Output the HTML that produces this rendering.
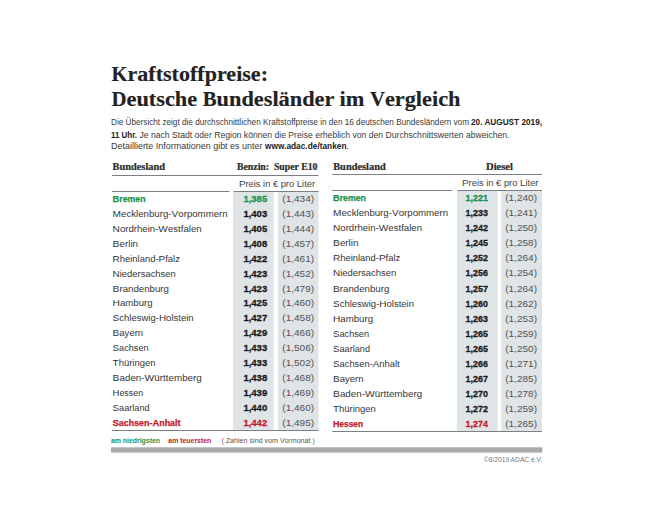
<!DOCTYPE html>
<html><head><meta charset="utf-8"><style>
html,body{margin:0;padding:0;background:#fff;}
body{width:650px;height:506px;overflow:hidden;}
svg{display:block;}
</style></head><body>
<svg width="650" height="506" viewBox="0 0 650 506">
<rect width="650" height="506" fill="#fff"/>
<text x="111.5" y="80.8" font-family='"Liberation Serif", serif' font-size="20" font-weight="bold" fill="#222" textLength="156.5" lengthAdjust="spacingAndGlyphs" stroke="#222" stroke-width="0.15"><tspan font-size="20">K</tspan><tspan font-size="21.5">raftstoffpreise:</tspan></text>
<text x="111.5" y="105.8" font-family='"Liberation Serif", serif' font-size="20" font-weight="bold" fill="#222" textLength="349" lengthAdjust="spacingAndGlyphs" stroke="#222" stroke-width="0.15"><tspan font-size="20">D</tspan><tspan font-size="21.5">eutsche </tspan><tspan font-size="20">B</tspan><tspan font-size="21.5">undesländer im </tspan><tspan font-size="20">V</tspan><tspan font-size="21.5">ergleich</tspan></text>
<text x="111" y="125" font-family='"Liberation Sans", sans-serif' font-size="8.7" font-weight="normal" fill="#3a3a3a" textLength="358" lengthAdjust="spacingAndGlyphs" >Die Übersicht zeigt die durchschnittlichen Kraftstoffpreise in den 16 deutschen Bundesländern vom</text>
<text x="471" y="125" font-family='"Liberation Sans", sans-serif' font-size="8.7" font-weight="bold" fill="#222" textLength="71" lengthAdjust="spacingAndGlyphs" >20. AUGUST 2019,</text>
<text x="111" y="137.7" font-family='"Liberation Sans", sans-serif' font-size="8.7" font-weight="bold" fill="#222" textLength="26" lengthAdjust="spacingAndGlyphs" >11 Uhr.</text>
<text x="139.5" y="137.7" font-family='"Liberation Sans", sans-serif' font-size="8.7" font-weight="normal" fill="#3a3a3a" textLength="370" lengthAdjust="spacingAndGlyphs" >Je nach Stadt oder Region können die Preise erheblich von den Durchschnittswerten abweichen.</text>
<text x="111" y="148.5" font-family='"Liberation Sans", sans-serif' font-size="8.7" font-weight="normal" fill="#3a3a3a" textLength="151.5" lengthAdjust="spacingAndGlyphs" >Detaillierte Informationen gibt es unter</text>
<text x="265" y="148.5" font-family='"Liberation Sans", sans-serif' font-size="8.7" font-weight="bold" fill="#222" textLength="81.5" lengthAdjust="spacingAndGlyphs" >www.adac.de/tanken</text>
<text x="346.3" y="148.5" font-family='"Liberation Sans", sans-serif' font-size="8.7" font-weight="normal" fill="#3a3a3a" >.</text>
<rect x="233" y="192" width="40.69999999999999" height="238" fill="#dfe4e6"/>
<rect x="277.8" y="192" width="40.69999999999999" height="238" fill="#dfe4e6"/>
<rect x="112" y="175" width="206.5" height="1" fill="#7c8084"/>
<rect x="112" y="191" width="117.4" height="1" fill="#7c8084"/>
<rect x="233.5" y="191" width="85.0" height="1" fill="#7c8084"/>
<rect x="112" y="430" width="206.5" height="1" fill="#7c8084"/>
<text x="112.5" y="169.8" font-family='"Liberation Serif", serif' font-size="9.3" font-weight="bold" fill="#2a2a2a" textLength="52.5" lengthAdjust="spacingAndGlyphs" stroke="#2a2a2a" stroke-width="0.2">Bundesland</text>
<text x="237" y="169.8" font-family='"Liberation Serif", serif' font-size="9.3" font-weight="bold" fill="#2a2a2a" textLength="80.5" lengthAdjust="spacingAndGlyphs" stroke="#2a2a2a" stroke-width="0.2">Benzin:&#160; Super E10</text>
<text x="239" y="186.5" font-family='"Liberation Sans", sans-serif' font-size="9" font-weight="normal" fill="#444" textLength="76" lengthAdjust="spacingAndGlyphs" ><tspan font-size="9.7">P</tspan><tspan font-size="9.2">reis in € pro </tspan><tspan font-size="9.7">L</tspan><tspan font-size="9.2">iter</tspan></text>
<text x="112.6" y="201.8" font-family='"Liberation Sans", sans-serif' font-size="9" font-weight="bold" fill="#1b924b" textLength="32.94" lengthAdjust="spacingAndGlyphs" stroke="#1b924b" stroke-width="0.25"><tspan font-size="9.7">B</tspan><tspan font-size="9.2">remen</tspan></text>
<text x="243.4" y="201.8" font-family='"Liberation Sans", sans-serif' font-size="9.5" font-weight="bold" fill="#1b924b" textLength="23.83" lengthAdjust="spacingAndGlyphs" stroke="#1b924b" stroke-width="0.3">1,385</text>
<text x="282.3" y="201.8" font-family='"Liberation Sans", sans-serif' font-size="9.6" font-weight="normal" fill="#525252" textLength="31.8" lengthAdjust="spacingAndGlyphs" >(1,434)</text>
<text x="112.6" y="216.75" font-family='"Liberation Sans", sans-serif' font-size="9" font-weight="normal" fill="#353535" textLength="115.06" lengthAdjust="spacingAndGlyphs" ><tspan font-size="9.7">M</tspan><tspan font-size="9.2">ecklenburg-</tspan><tspan font-size="9.7">V</tspan><tspan font-size="9.2">orpommern</tspan></text>
<text x="243.4" y="216.75" font-family='"Liberation Sans", sans-serif' font-size="9.5" font-weight="bold" fill="#1a1a1a" textLength="23.83" lengthAdjust="spacingAndGlyphs" stroke="#1a1a1a" stroke-width="0.3">1,403</text>
<text x="282.3" y="216.75" font-family='"Liberation Sans", sans-serif' font-size="9.6" font-weight="normal" fill="#525252" textLength="31.8" lengthAdjust="spacingAndGlyphs" >(1,443)</text>
<text x="112.6" y="231.70000000000002" font-family='"Liberation Sans", sans-serif' font-size="9" font-weight="normal" fill="#353535" textLength="89.01" lengthAdjust="spacingAndGlyphs" ><tspan font-size="9.7">N</tspan><tspan font-size="9.2">ordrhein-</tspan><tspan font-size="9.7">W</tspan><tspan font-size="9.2">estfalen</tspan></text>
<text x="243.4" y="231.70000000000002" font-family='"Liberation Sans", sans-serif' font-size="9.5" font-weight="bold" fill="#1a1a1a" textLength="23.83" lengthAdjust="spacingAndGlyphs" stroke="#1a1a1a" stroke-width="0.3">1,405</text>
<text x="282.3" y="231.70000000000002" font-family='"Liberation Sans", sans-serif' font-size="9.6" font-weight="normal" fill="#525252" textLength="31.8" lengthAdjust="spacingAndGlyphs" >(1,444)</text>
<text x="112.6" y="246.65" font-family='"Liberation Sans", sans-serif' font-size="9" font-weight="normal" fill="#353535" textLength="25.44" lengthAdjust="spacingAndGlyphs" ><tspan font-size="9.7">B</tspan><tspan font-size="9.2">erlin</tspan></text>
<text x="243.4" y="246.65" font-family='"Liberation Sans", sans-serif' font-size="9.5" font-weight="bold" fill="#1a1a1a" textLength="23.83" lengthAdjust="spacingAndGlyphs" stroke="#1a1a1a" stroke-width="0.3">1,408</text>
<text x="282.3" y="246.65" font-family='"Liberation Sans", sans-serif' font-size="9.6" font-weight="normal" fill="#525252" textLength="31.8" lengthAdjust="spacingAndGlyphs" >(1,457)</text>
<text x="112.6" y="261.6" font-family='"Liberation Sans", sans-serif' font-size="9" font-weight="normal" fill="#353535" textLength="67.31" lengthAdjust="spacingAndGlyphs" ><tspan font-size="9.7">R</tspan><tspan font-size="9.2">heinland-</tspan><tspan font-size="9.7">P</tspan><tspan font-size="9.2">falz</tspan></text>
<text x="243.4" y="261.6" font-family='"Liberation Sans", sans-serif' font-size="9.5" font-weight="bold" fill="#1a1a1a" textLength="23.83" lengthAdjust="spacingAndGlyphs" stroke="#1a1a1a" stroke-width="0.3">1,422</text>
<text x="282.3" y="261.6" font-family='"Liberation Sans", sans-serif' font-size="9.6" font-weight="normal" fill="#525252" textLength="31.8" lengthAdjust="spacingAndGlyphs" >(1,461)</text>
<text x="112.6" y="276.55" font-family='"Liberation Sans", sans-serif' font-size="9" font-weight="normal" fill="#353535" textLength="63.16" lengthAdjust="spacingAndGlyphs" ><tspan font-size="9.7">N</tspan><tspan font-size="9.2">iedersachsen</tspan></text>
<text x="243.4" y="276.55" font-family='"Liberation Sans", sans-serif' font-size="9.5" font-weight="bold" fill="#1a1a1a" textLength="23.83" lengthAdjust="spacingAndGlyphs" stroke="#1a1a1a" stroke-width="0.3">1,423</text>
<text x="282.3" y="276.55" font-family='"Liberation Sans", sans-serif' font-size="9.6" font-weight="normal" fill="#525252" textLength="31.8" lengthAdjust="spacingAndGlyphs" >(1,452)</text>
<text x="112.6" y="291.5" font-family='"Liberation Sans", sans-serif' font-size="9" font-weight="normal" fill="#353535" textLength="56.32" lengthAdjust="spacingAndGlyphs" ><tspan font-size="9.7">B</tspan><tspan font-size="9.2">randenburg</tspan></text>
<text x="243.4" y="291.5" font-family='"Liberation Sans", sans-serif' font-size="9.5" font-weight="bold" fill="#1a1a1a" textLength="23.83" lengthAdjust="spacingAndGlyphs" stroke="#1a1a1a" stroke-width="0.3">1,423</text>
<text x="282.3" y="291.5" font-family='"Liberation Sans", sans-serif' font-size="9.6" font-weight="normal" fill="#525252" textLength="31.8" lengthAdjust="spacingAndGlyphs" >(1,479)</text>
<text x="112.6" y="306.45" font-family='"Liberation Sans", sans-serif' font-size="9" font-weight="normal" fill="#353535" textLength="40.06" lengthAdjust="spacingAndGlyphs" ><tspan font-size="9.7">H</tspan><tspan font-size="9.2">amburg</tspan></text>
<text x="243.4" y="306.45" font-family='"Liberation Sans", sans-serif' font-size="9.5" font-weight="bold" fill="#1a1a1a" textLength="23.83" lengthAdjust="spacingAndGlyphs" stroke="#1a1a1a" stroke-width="0.3">1,425</text>
<text x="282.3" y="306.45" font-family='"Liberation Sans", sans-serif' font-size="9.6" font-weight="normal" fill="#525252" textLength="31.8" lengthAdjust="spacingAndGlyphs" >(1,460)</text>
<text x="112.6" y="321.4" font-family='"Liberation Sans", sans-serif' font-size="9" font-weight="normal" fill="#353535" textLength="81.01" lengthAdjust="spacingAndGlyphs" ><tspan font-size="9.7">S</tspan><tspan font-size="9.2">chleswig-</tspan><tspan font-size="9.7">H</tspan><tspan font-size="9.2">olstein</tspan></text>
<text x="243.4" y="321.4" font-family='"Liberation Sans", sans-serif' font-size="9.5" font-weight="bold" fill="#1a1a1a" textLength="23.83" lengthAdjust="spacingAndGlyphs" stroke="#1a1a1a" stroke-width="0.3">1,427</text>
<text x="282.3" y="321.4" font-family='"Liberation Sans", sans-serif' font-size="9.6" font-weight="normal" fill="#525252" textLength="31.8" lengthAdjust="spacingAndGlyphs" >(1,458)</text>
<text x="112.6" y="336.35" font-family='"Liberation Sans", sans-serif' font-size="9" font-weight="normal" fill="#353535" textLength="30.57" lengthAdjust="spacingAndGlyphs" ><tspan font-size="9.7">B</tspan><tspan font-size="9.2">ayern</tspan></text>
<text x="243.4" y="336.35" font-family='"Liberation Sans", sans-serif' font-size="9.5" font-weight="bold" fill="#1a1a1a" textLength="23.83" lengthAdjust="spacingAndGlyphs" stroke="#1a1a1a" stroke-width="0.3">1,429</text>
<text x="282.3" y="336.35" font-family='"Liberation Sans", sans-serif' font-size="9.6" font-weight="normal" fill="#525252" textLength="31.8" lengthAdjust="spacingAndGlyphs" >(1,466)</text>
<text x="112.6" y="351.3" font-family='"Liberation Sans", sans-serif' font-size="9" font-weight="normal" fill="#353535" textLength="36.06" lengthAdjust="spacingAndGlyphs" ><tspan font-size="9.7">S</tspan><tspan font-size="9.2">achsen</tspan></text>
<text x="243.4" y="351.3" font-family='"Liberation Sans", sans-serif' font-size="9.5" font-weight="bold" fill="#1a1a1a" textLength="23.83" lengthAdjust="spacingAndGlyphs" stroke="#1a1a1a" stroke-width="0.3">1,433</text>
<text x="282.3" y="351.3" font-family='"Liberation Sans", sans-serif' font-size="9.6" font-weight="normal" fill="#525252" textLength="31.8" lengthAdjust="spacingAndGlyphs" >(1,506)</text>
<text x="112.6" y="366.25" font-family='"Liberation Sans", sans-serif' font-size="9" font-weight="normal" fill="#353535" textLength="42.81" lengthAdjust="spacingAndGlyphs" ><tspan font-size="9.7">T</tspan><tspan font-size="9.2">hüringen</tspan></text>
<text x="243.4" y="366.25" font-family='"Liberation Sans", sans-serif' font-size="9.5" font-weight="bold" fill="#1a1a1a" textLength="23.83" lengthAdjust="spacingAndGlyphs" stroke="#1a1a1a" stroke-width="0.3">1,433</text>
<text x="282.3" y="366.25" font-family='"Liberation Sans", sans-serif' font-size="9.6" font-weight="normal" fill="#525252" textLength="31.8" lengthAdjust="spacingAndGlyphs" >(1,502)</text>
<text x="112.6" y="381.2" font-family='"Liberation Sans", sans-serif' font-size="9" font-weight="normal" fill="#353535" textLength="89.2" lengthAdjust="spacingAndGlyphs" ><tspan font-size="9.7">B</tspan><tspan font-size="9.2">aden-</tspan><tspan font-size="9.7">W</tspan><tspan font-size="9.2">ürttemberg</tspan></text>
<text x="243.4" y="381.2" font-family='"Liberation Sans", sans-serif' font-size="9.5" font-weight="bold" fill="#1a1a1a" textLength="23.83" lengthAdjust="spacingAndGlyphs" stroke="#1a1a1a" stroke-width="0.3">1,438</text>
<text x="282.3" y="381.2" font-family='"Liberation Sans", sans-serif' font-size="9.6" font-weight="normal" fill="#525252" textLength="31.8" lengthAdjust="spacingAndGlyphs" >(1,468)</text>
<text x="112.6" y="396.15" font-family='"Liberation Sans", sans-serif' font-size="9" font-weight="normal" fill="#353535" textLength="30.52" lengthAdjust="spacingAndGlyphs" ><tspan font-size="9.7">H</tspan><tspan font-size="9.2">essen</tspan></text>
<text x="243.4" y="396.15" font-family='"Liberation Sans", sans-serif' font-size="9.5" font-weight="bold" fill="#1a1a1a" textLength="23.83" lengthAdjust="spacingAndGlyphs" stroke="#1a1a1a" stroke-width="0.3">1,439</text>
<text x="282.3" y="396.15" font-family='"Liberation Sans", sans-serif' font-size="9.6" font-weight="normal" fill="#525252" textLength="31.8" lengthAdjust="spacingAndGlyphs" >(1,469)</text>
<text x="112.6" y="411.1" font-family='"Liberation Sans", sans-serif' font-size="9" font-weight="normal" fill="#353535" textLength="37.06" lengthAdjust="spacingAndGlyphs" ><tspan font-size="9.7">S</tspan><tspan font-size="9.2">aarland</tspan></text>
<text x="243.4" y="411.1" font-family='"Liberation Sans", sans-serif' font-size="9.5" font-weight="bold" fill="#1a1a1a" textLength="23.83" lengthAdjust="spacingAndGlyphs" stroke="#1a1a1a" stroke-width="0.3">1,440</text>
<text x="282.3" y="411.1" font-family='"Liberation Sans", sans-serif' font-size="9.6" font-weight="normal" fill="#525252" textLength="31.8" lengthAdjust="spacingAndGlyphs" >(1,460)</text>
<text x="112.6" y="426.05" font-family='"Liberation Sans", sans-serif' font-size="9" font-weight="bold" fill="#c0202b" textLength="67.87" lengthAdjust="spacingAndGlyphs" stroke="#c0202b" stroke-width="0.25"><tspan font-size="9.7">S</tspan><tspan font-size="9.2">achsen-</tspan><tspan font-size="9.7">A</tspan><tspan font-size="9.2">nhalt</tspan></text>
<text x="243.4" y="426.05" font-family='"Liberation Sans", sans-serif' font-size="9.5" font-weight="bold" fill="#c0202b" textLength="23.83" lengthAdjust="spacingAndGlyphs" stroke="#c0202b" stroke-width="0.3">1,442</text>
<text x="282.3" y="426.05" font-family='"Liberation Sans", sans-serif' font-size="9.6" font-weight="normal" fill="#525252" textLength="31.8" lengthAdjust="spacingAndGlyphs" >(1,495)</text>
<rect x="456.9" y="191" width="40.60000000000002" height="240" fill="#dfe4e6"/>
<rect x="501.3" y="191" width="40.69999999999999" height="240" fill="#dfe4e6"/>
<rect x="332.2" y="174" width="209.8" height="1" fill="#7c8084"/>
<rect x="332.2" y="190" width="120.0" height="1" fill="#7c8084"/>
<rect x="457.4" y="190" width="84.60000000000002" height="1" fill="#7c8084"/>
<rect x="332.2" y="431" width="209.8" height="1" fill="#7c8084"/>
<text x="333.2" y="169.5" font-family='"Liberation Serif", serif' font-size="9.3" font-weight="bold" fill="#2a2a2a" textLength="52.5" lengthAdjust="spacingAndGlyphs" stroke="#2a2a2a" stroke-width="0.2">Bundesland</text>
<text x="486" y="169.5" font-family='"Liberation Serif", serif' font-size="9.3" font-weight="bold" fill="#2a2a2a" textLength="27" lengthAdjust="spacingAndGlyphs" stroke="#2a2a2a" stroke-width="0.2">Diesel</text>
<text x="462" y="185.9" font-family='"Liberation Sans", sans-serif' font-size="9" font-weight="normal" fill="#444" textLength="76.5" lengthAdjust="spacingAndGlyphs" ><tspan font-size="9.7">P</tspan><tspan font-size="9.2">reis in € pro </tspan><tspan font-size="9.7">L</tspan><tspan font-size="9.2">iter</tspan></text>
<text x="333" y="201.2" font-family='"Liberation Sans", sans-serif' font-size="9" font-weight="bold" fill="#1b924b" textLength="32.94" lengthAdjust="spacingAndGlyphs" stroke="#1b924b" stroke-width="0.25"><tspan font-size="9.7">B</tspan><tspan font-size="9.2">remen</tspan></text>
<text x="465.6" y="201.2" font-family='"Liberation Sans", sans-serif' font-size="9.5" font-weight="bold" fill="#1b924b" textLength="22.404273504273505" lengthAdjust="spacingAndGlyphs" stroke="#1b924b" stroke-width="0.3">1,221</text>
<text x="505.2" y="201.2" font-family='"Liberation Sans", sans-serif' font-size="9.6" font-weight="normal" fill="#525252" textLength="31.8" lengthAdjust="spacingAndGlyphs" >(1,240)</text>
<text x="333" y="216.25" font-family='"Liberation Sans", sans-serif' font-size="9" font-weight="normal" fill="#353535" textLength="115.06" lengthAdjust="spacingAndGlyphs" ><tspan font-size="9.7">M</tspan><tspan font-size="9.2">ecklenburg-</tspan><tspan font-size="9.7">V</tspan><tspan font-size="9.2">orpommern</tspan></text>
<text x="465.6" y="216.25" font-family='"Liberation Sans", sans-serif' font-size="9.5" font-weight="bold" fill="#1a1a1a" textLength="22.404273504273505" lengthAdjust="spacingAndGlyphs" stroke="#1a1a1a" stroke-width="0.3">1,233</text>
<text x="505.2" y="216.25" font-family='"Liberation Sans", sans-serif' font-size="9.6" font-weight="normal" fill="#525252" textLength="31.8" lengthAdjust="spacingAndGlyphs" >(1,241)</text>
<text x="333" y="231.29999999999998" font-family='"Liberation Sans", sans-serif' font-size="9" font-weight="normal" fill="#353535" textLength="89.01" lengthAdjust="spacingAndGlyphs" ><tspan font-size="9.7">N</tspan><tspan font-size="9.2">ordrhein-</tspan><tspan font-size="9.7">W</tspan><tspan font-size="9.2">estfalen</tspan></text>
<text x="465.6" y="231.29999999999998" font-family='"Liberation Sans", sans-serif' font-size="9.5" font-weight="bold" fill="#1a1a1a" textLength="22.404273504273505" lengthAdjust="spacingAndGlyphs" stroke="#1a1a1a" stroke-width="0.3">1,242</text>
<text x="505.2" y="231.29999999999998" font-family='"Liberation Sans", sans-serif' font-size="9.6" font-weight="normal" fill="#525252" textLength="31.8" lengthAdjust="spacingAndGlyphs" >(1,250)</text>
<text x="333" y="246.35" font-family='"Liberation Sans", sans-serif' font-size="9" font-weight="normal" fill="#353535" textLength="25.44" lengthAdjust="spacingAndGlyphs" ><tspan font-size="9.7">B</tspan><tspan font-size="9.2">erlin</tspan></text>
<text x="465.6" y="246.35" font-family='"Liberation Sans", sans-serif' font-size="9.5" font-weight="bold" fill="#1a1a1a" textLength="22.404273504273505" lengthAdjust="spacingAndGlyphs" stroke="#1a1a1a" stroke-width="0.3">1,245</text>
<text x="505.2" y="246.35" font-family='"Liberation Sans", sans-serif' font-size="9.6" font-weight="normal" fill="#525252" textLength="31.8" lengthAdjust="spacingAndGlyphs" >(1,258)</text>
<text x="333" y="261.4" font-family='"Liberation Sans", sans-serif' font-size="9" font-weight="normal" fill="#353535" textLength="67.31" lengthAdjust="spacingAndGlyphs" ><tspan font-size="9.7">R</tspan><tspan font-size="9.2">heinland-</tspan><tspan font-size="9.7">P</tspan><tspan font-size="9.2">falz</tspan></text>
<text x="465.6" y="261.4" font-family='"Liberation Sans", sans-serif' font-size="9.5" font-weight="bold" fill="#1a1a1a" textLength="22.404273504273505" lengthAdjust="spacingAndGlyphs" stroke="#1a1a1a" stroke-width="0.3">1,252</text>
<text x="505.2" y="261.4" font-family='"Liberation Sans", sans-serif' font-size="9.6" font-weight="normal" fill="#525252" textLength="31.8" lengthAdjust="spacingAndGlyphs" >(1,264)</text>
<text x="333" y="276.45" font-family='"Liberation Sans", sans-serif' font-size="9" font-weight="normal" fill="#353535" textLength="63.16" lengthAdjust="spacingAndGlyphs" ><tspan font-size="9.7">N</tspan><tspan font-size="9.2">iedersachsen</tspan></text>
<text x="465.6" y="276.45" font-family='"Liberation Sans", sans-serif' font-size="9.5" font-weight="bold" fill="#1a1a1a" textLength="22.404273504273505" lengthAdjust="spacingAndGlyphs" stroke="#1a1a1a" stroke-width="0.3">1,256</text>
<text x="505.2" y="276.45" font-family='"Liberation Sans", sans-serif' font-size="9.6" font-weight="normal" fill="#525252" textLength="31.8" lengthAdjust="spacingAndGlyphs" >(1,254)</text>
<text x="333" y="291.5" font-family='"Liberation Sans", sans-serif' font-size="9" font-weight="normal" fill="#353535" textLength="56.32" lengthAdjust="spacingAndGlyphs" ><tspan font-size="9.7">B</tspan><tspan font-size="9.2">randenburg</tspan></text>
<text x="465.6" y="291.5" font-family='"Liberation Sans", sans-serif' font-size="9.5" font-weight="bold" fill="#1a1a1a" textLength="22.404273504273505" lengthAdjust="spacingAndGlyphs" stroke="#1a1a1a" stroke-width="0.3">1,257</text>
<text x="505.2" y="291.5" font-family='"Liberation Sans", sans-serif' font-size="9.6" font-weight="normal" fill="#525252" textLength="31.8" lengthAdjust="spacingAndGlyphs" >(1,264)</text>
<text x="333" y="306.55" font-family='"Liberation Sans", sans-serif' font-size="9" font-weight="normal" fill="#353535" textLength="81.01" lengthAdjust="spacingAndGlyphs" ><tspan font-size="9.7">S</tspan><tspan font-size="9.2">chleswig-</tspan><tspan font-size="9.7">H</tspan><tspan font-size="9.2">olstein</tspan></text>
<text x="465.6" y="306.55" font-family='"Liberation Sans", sans-serif' font-size="9.5" font-weight="bold" fill="#1a1a1a" textLength="22.404273504273505" lengthAdjust="spacingAndGlyphs" stroke="#1a1a1a" stroke-width="0.3">1,260</text>
<text x="505.2" y="306.55" font-family='"Liberation Sans", sans-serif' font-size="9.6" font-weight="normal" fill="#525252" textLength="31.8" lengthAdjust="spacingAndGlyphs" >(1,262)</text>
<text x="333" y="321.6" font-family='"Liberation Sans", sans-serif' font-size="9" font-weight="normal" fill="#353535" textLength="40.06" lengthAdjust="spacingAndGlyphs" ><tspan font-size="9.7">H</tspan><tspan font-size="9.2">amburg</tspan></text>
<text x="465.6" y="321.6" font-family='"Liberation Sans", sans-serif' font-size="9.5" font-weight="bold" fill="#1a1a1a" textLength="22.404273504273505" lengthAdjust="spacingAndGlyphs" stroke="#1a1a1a" stroke-width="0.3">1,263</text>
<text x="505.2" y="321.6" font-family='"Liberation Sans", sans-serif' font-size="9.6" font-weight="normal" fill="#525252" textLength="31.8" lengthAdjust="spacingAndGlyphs" >(1,253)</text>
<text x="333" y="336.65" font-family='"Liberation Sans", sans-serif' font-size="9" font-weight="normal" fill="#353535" textLength="36.06" lengthAdjust="spacingAndGlyphs" ><tspan font-size="9.7">S</tspan><tspan font-size="9.2">achsen</tspan></text>
<text x="465.6" y="336.65" font-family='"Liberation Sans", sans-serif' font-size="9.5" font-weight="bold" fill="#1a1a1a" textLength="22.404273504273505" lengthAdjust="spacingAndGlyphs" stroke="#1a1a1a" stroke-width="0.3">1,265</text>
<text x="505.2" y="336.65" font-family='"Liberation Sans", sans-serif' font-size="9.6" font-weight="normal" fill="#525252" textLength="31.8" lengthAdjust="spacingAndGlyphs" >(1,259)</text>
<text x="333" y="351.7" font-family='"Liberation Sans", sans-serif' font-size="9" font-weight="normal" fill="#353535" textLength="37.06" lengthAdjust="spacingAndGlyphs" ><tspan font-size="9.7">S</tspan><tspan font-size="9.2">aarland</tspan></text>
<text x="465.6" y="351.7" font-family='"Liberation Sans", sans-serif' font-size="9.5" font-weight="bold" fill="#1a1a1a" textLength="22.404273504273505" lengthAdjust="spacingAndGlyphs" stroke="#1a1a1a" stroke-width="0.3">1,265</text>
<text x="505.2" y="351.7" font-family='"Liberation Sans", sans-serif' font-size="9.6" font-weight="normal" fill="#525252" textLength="31.8" lengthAdjust="spacingAndGlyphs" >(1,250)</text>
<text x="333" y="366.75" font-family='"Liberation Sans", sans-serif' font-size="9" font-weight="normal" fill="#353535" textLength="66.59" lengthAdjust="spacingAndGlyphs" ><tspan font-size="9.7">S</tspan><tspan font-size="9.2">achsen-</tspan><tspan font-size="9.7">A</tspan><tspan font-size="9.2">nhalt</tspan></text>
<text x="465.6" y="366.75" font-family='"Liberation Sans", sans-serif' font-size="9.5" font-weight="bold" fill="#1a1a1a" textLength="22.404273504273505" lengthAdjust="spacingAndGlyphs" stroke="#1a1a1a" stroke-width="0.3">1,266</text>
<text x="505.2" y="366.75" font-family='"Liberation Sans", sans-serif' font-size="9.6" font-weight="normal" fill="#525252" textLength="31.8" lengthAdjust="spacingAndGlyphs" >(1,271)</text>
<text x="333" y="381.8" font-family='"Liberation Sans", sans-serif' font-size="9" font-weight="normal" fill="#353535" textLength="30.57" lengthAdjust="spacingAndGlyphs" ><tspan font-size="9.7">B</tspan><tspan font-size="9.2">ayern</tspan></text>
<text x="465.6" y="381.8" font-family='"Liberation Sans", sans-serif' font-size="9.5" font-weight="bold" fill="#1a1a1a" textLength="22.404273504273505" lengthAdjust="spacingAndGlyphs" stroke="#1a1a1a" stroke-width="0.3">1,267</text>
<text x="505.2" y="381.8" font-family='"Liberation Sans", sans-serif' font-size="9.6" font-weight="normal" fill="#525252" textLength="31.8" lengthAdjust="spacingAndGlyphs" >(1,285)</text>
<text x="333" y="396.85" font-family='"Liberation Sans", sans-serif' font-size="9" font-weight="normal" fill="#353535" textLength="89.2" lengthAdjust="spacingAndGlyphs" ><tspan font-size="9.7">B</tspan><tspan font-size="9.2">aden-</tspan><tspan font-size="9.7">W</tspan><tspan font-size="9.2">ürttemberg</tspan></text>
<text x="465.6" y="396.85" font-family='"Liberation Sans", sans-serif' font-size="9.5" font-weight="bold" fill="#1a1a1a" textLength="22.404273504273505" lengthAdjust="spacingAndGlyphs" stroke="#1a1a1a" stroke-width="0.3">1,270</text>
<text x="505.2" y="396.85" font-family='"Liberation Sans", sans-serif' font-size="9.6" font-weight="normal" fill="#525252" textLength="31.8" lengthAdjust="spacingAndGlyphs" >(1,278)</text>
<text x="333" y="411.9" font-family='"Liberation Sans", sans-serif' font-size="9" font-weight="normal" fill="#353535" textLength="42.81" lengthAdjust="spacingAndGlyphs" ><tspan font-size="9.7">T</tspan><tspan font-size="9.2">hüringen</tspan></text>
<text x="465.6" y="411.9" font-family='"Liberation Sans", sans-serif' font-size="9.5" font-weight="bold" fill="#1a1a1a" textLength="22.404273504273505" lengthAdjust="spacingAndGlyphs" stroke="#1a1a1a" stroke-width="0.3">1,272</text>
<text x="505.2" y="411.9" font-family='"Liberation Sans", sans-serif' font-size="9.6" font-weight="normal" fill="#525252" textLength="31.8" lengthAdjust="spacingAndGlyphs" >(1,259)</text>
<text x="333" y="426.95" font-family='"Liberation Sans", sans-serif' font-size="9" font-weight="bold" fill="#c0202b" textLength="30.11" lengthAdjust="spacingAndGlyphs" stroke="#c0202b" stroke-width="0.25"><tspan font-size="9.7">H</tspan><tspan font-size="9.2">essen</tspan></text>
<text x="465.6" y="426.95" font-family='"Liberation Sans", sans-serif' font-size="9.5" font-weight="bold" fill="#c0202b" textLength="22.404273504273505" lengthAdjust="spacingAndGlyphs" stroke="#c0202b" stroke-width="0.3">1,274</text>
<text x="505.2" y="426.95" font-family='"Liberation Sans", sans-serif' font-size="9.6" font-weight="normal" fill="#525252" textLength="31.8" lengthAdjust="spacingAndGlyphs" >(1,265)</text>
<text x="111" y="442.8" font-family='"Liberation Sans", sans-serif' font-size="7" font-weight="bold" fill="#1b924b" textLength="49" lengthAdjust="spacingAndGlyphs" >am niedrigsten</text>
<text x="168.3" y="442.8" font-family='"Liberation Sans", sans-serif' font-size="7" font-weight="bold" fill="#c0202b" textLength="43" lengthAdjust="spacingAndGlyphs" >am teuersten</text>
<text x="221.4" y="442.8" font-family='"Liberation Sans", sans-serif' font-size="7.5" font-weight="normal" fill="#555" textLength="93.5" lengthAdjust="spacingAndGlyphs" >( Zahlen sind vom Vormonat )</text>
<rect x="111" y="447.3" width="431.3" height="5.3" fill="#a8abad"/>
<text x="542.3" y="461.5" font-family='"Liberation Sans", sans-serif' font-size="7" font-weight="normal" fill="#777" textLength="58.5" lengthAdjust="spacingAndGlyphs" text-anchor="end" >©8/2019 ADAC e.V.</text>
</svg>
</body></html>
